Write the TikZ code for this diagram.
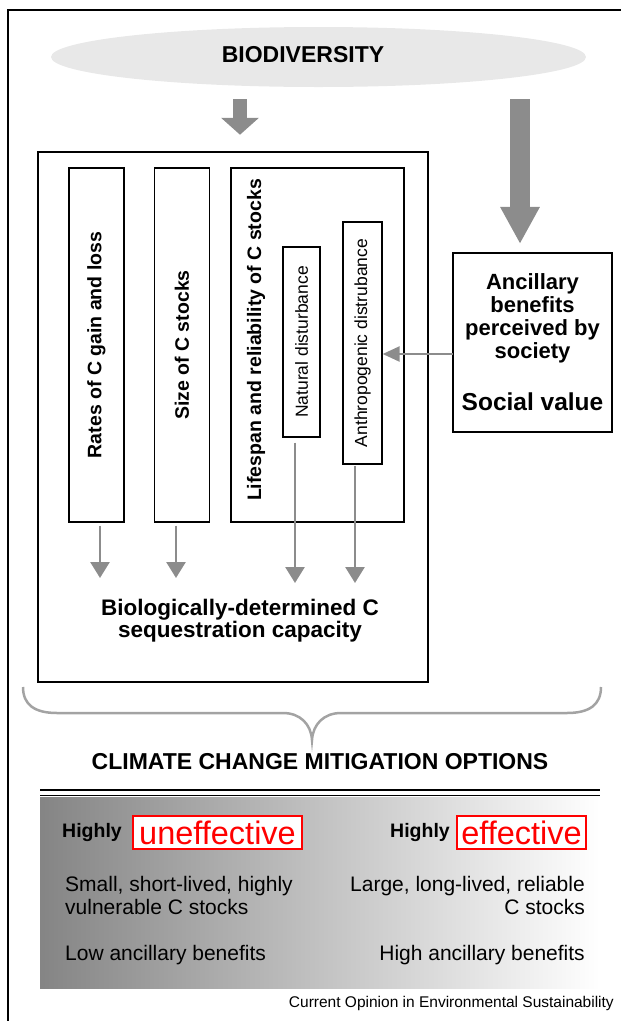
\documentclass[tikz,border=0pt]{standalone}
\usepackage{fontspec}
\setmainfont{Liberation Sans}
\usetikzlibrary{arrows.meta,shapes.geometric}
\definecolor{arrgray}{gray}{0.55}
\definecolor{bracegray}{gray}{0.64}
\newcommand{\setfs}[2]{\fontsize{#1}{#2}\selectfont}
\begin{document}
\begin{tikzpicture}[x=1pt,y=-1pt,
  box/.style={draw, line width=1.3pt, inner sep=0pt},
  vlabel/.style={font=\bfseries\setfs{19.5}{20}},
  thinarrow/.style={draw=arrgray, line width=2.8pt, -{Triangle[width=19pt,length=16pt]}},
  bigtxt/.style={font=\bfseries\setfs{23}{25}, inner sep=0pt},
  bodytxt/.style={font=\setfs{21}{23}, inner sep=0pt},
  redbox/.style={draw=red, line width=2pt, fill=white, text=red, inner sep=0pt, font=\setfs{32.5}{32}}]
\useasboundingbox (0,0) rectangle (621,1021);
\draw[line width=1.5pt] (8,1021) -- (8,10) -- (621,10);

\node[ellipse, fill=black!9, minimum width=535pt, minimum height=60pt] (bio) at (318.5,57) {};
\node[bigtxt, anchor=base] (biotxt) at (303,62) {BIODIVERSITY};

\node[box, line width=2.5pt, minimum width=390pt, minimum height=530pt] (sys) at (233,417) {};
\node[box, vlabel, minimum width=55pt, minimum height=354pt] (rates) at (96.5,345) {\rotatebox{90}{Rates of C gain and loss}};
\node[box, vlabel, minimum width=55pt, minimum height=354pt] (size) at (182,345) {\rotatebox{90}{Size of C stocks}};
\node[box, minimum width=173pt, minimum height=354pt] (life) at (317.5,345) {};
\node[vlabel, inner sep=0pt] (lifetxt) at (256,340) {\rotatebox{90}{Lifespan and reliability of C stocks}};
\node[box, font=\setfs{17.5}{18}, minimum width=37pt, minimum height=190pt] (nat) at (301.5,342) {\rotatebox{90}{Natural disturbance}};
\node[box, font=\setfs{17.5}{18}, minimum width=39pt, minimum height=242pt] (anth) at (362.5,343) {\rotatebox{90}{Anthropogenic distrubance}};

\node[box, line width=2.2pt, minimum width=159pt, minimum height=179pt, align=center, font=\bfseries\setfs{22}{23}] (anc) at (532.5,342.5) {Ancillary\\benefits\\perceived by\\society\\[29pt]{\setfs{24.5}{24}Social value}};

\coordinate (bioL) at (240,99);
\coordinate (bioR) at (520,99);
\draw[draw=arrgray, line width=14pt, shorten >=16pt, -{Triangle[width=37pt,length=17pt]}] (bioL) -- (bioL |- sys.north);
\draw[draw=arrgray, line width=20pt, shorten >=8pt, -{Triangle[width=37pt,length=37pt]}] (bioR) -- (bioR |- anc.north);

\coordinate (c1) at (100,578);
\coordinate (c2) at (176,578);
\coordinate (c3) at (295,583);
\coordinate (c4) at (355,583);
\draw[thinarrow, shorten <=3pt] (rates.south -| c1) -- (c1);
\draw[thinarrow, shorten <=3pt] (size.south -| c2) -- (c2);
\draw[thinarrow, shorten <=5pt] (nat.south -| c3) -- (c3);
\draw[thinarrow, shorten <=1pt] (anth.south -| c4) -- (c4);
\coordinate (hz) at (453,354);
\draw[draw=arrgray, line width=2.5pt, -{Triangle[width=15pt,length=17pt]}] (hz) -- (hz -| anth.east);

\node[font=\bfseries\setfs{22.5}{22}, align=center, inner sep=0pt] (cap) at (240,621) {Biologically-determined C\\sequestration capacity};

\draw[draw=bracegray, line width=2.5pt] (23,687) .. controls (23,705) and (35,713) .. (57,713) -- (283,713) .. controls (300,713) and (311,724) .. (312,740) .. controls (313,724) and (324,713) .. (341,713) -- (567,713) .. controls (589,713) and (601,705) .. (601,687);

\node[bigtxt, anchor=base] (opt) at (320,769) {CLIMATE CHANGE MITIGATION OPTIONS};
\draw[line width=2.5pt] (40,790) -- (600,790);
\draw[line width=1.2pt] (40,795.5) -- (600,795.5);
\shade[left color=black!48, right color=white] (40,797) rectangle (600,988);

\node[font=\bfseries\setfs{19.5}{20}, anchor=base west, inner sep=0pt] (hiL) at (62,837) {Highly};
\node[redbox, minimum width=169pt, minimum height=33pt] (unef) at (217.5,832.5) {uneffective};
\node[font=\bfseries\setfs{19.5}{20}, anchor=base west, inner sep=0pt] (hiR) at (390,837) {Highly};
\node[redbox, minimum width=129pt, minimum height=33pt] (eff) at (521.5,832.5) {effective};

\node[bodytxt, anchor=west, align=left] (smallL) at (65,895) {Small, short-lived, highly\\vulnerable C stocks};
\node[bodytxt, anchor=east, align=right] (largeR) at (585,895) {Large, long-lived, reliable\\C stocks};
\node[bodytxt, anchor=base west] (lowL) at (65,960) {Low ancillary benefits};
\node[bodytxt, anchor=base east] (highR) at (585,960) {High ancillary benefits};
\node[font=\setfs{15.5}{16}, anchor=base east, inner sep=0pt] (src) at (614,1007) {Current Opinion in Environmental Sustainability};
\end{tikzpicture}
\end{document}
